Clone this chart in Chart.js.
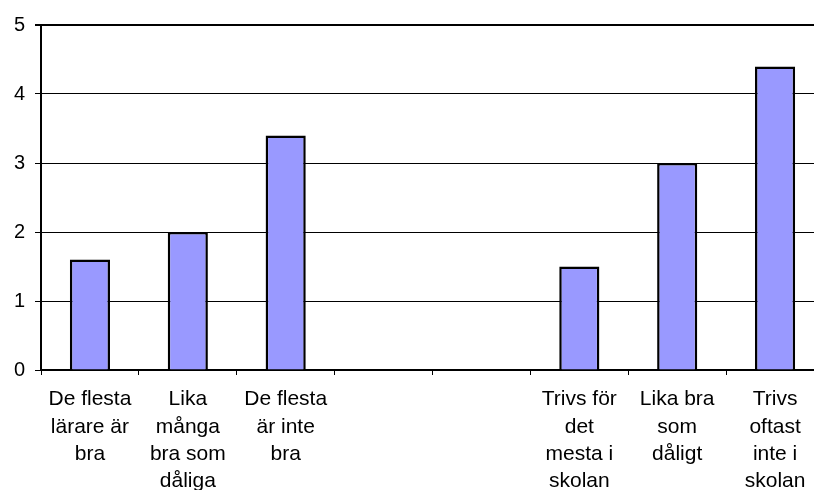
<!DOCTYPE html>
<html>
<head>
<meta charset="utf-8">
<script src="https://cdn.jsdelivr.net/npm/chart.js@4"></script>
<style>
  html, body { margin: 0; padding: 0; background: #fff; overflow: hidden; width: 814px; height: 490px; }
  #wrap { width: 826px; height: 490px; }
</style>
</head>
<body>
<div id="wrap"><canvas id="barChart"></canvas></div>
<script>
// categories (multi-line labels), two empty slots in the middle
var categories = [
  ["De flesta", "lärare är", "bra"],
  ["Lika", "många", "bra som", "dåliga"],
  ["De flesta", "är inte", "bra"],
  "",
  "",
  ["Trivs för", "det", "mesta i", "skolan"],
  ["Lika bra", "som", "dåligt"],
  ["Trivs", "oftast", "inte i", "skolan"]
];
var values = [1.6, 2.0, 3.4, null, null, 1.5, 3.0, 4.4];
var yTicks = [0, 1, 2, 3, 4, 5];

var ctx = document.getElementById("barChart").getContext('2d');

var myBarChart = new Chart(ctx, {
  type: 'bar',
  data: {
    labels: categories,
    datasets: [{
      data: values,
      backgroundColor: '#9999ff',
      borderColor: '#000000',
      borderWidth: 2.5,
      categoryPercentage: 1,
      barPercentage: 0.41
    }]
  },
  options: {
    responsive: true,
    maintainAspectRatio: false,
    animation: false,
    layout: { padding: { top: 25, right: 2, left: 0, bottom: 0 } },
    plugins: {
      legend: { display: false },
      tooltip: { enabled: false }
    },
    scales: {
      x: {
        grid: { drawOnChartArea: false, color: '#000', tickLength: 5, offset: true },
        border: { color: '#000', width: 2 },
        ticks: {
          autoSkip: false, maxRotation: 0, minRotation: 0,
          color: '#000', padding: 11,
          font: { family: 'Liberation Sans, Arial, sans-serif', size: 21, lineHeight: 1.3 }
        },
        afterFit: function (scale) { scale.height = 120; }
      },
      y: {
        min: 0, max: 5,
        afterBuildTicks: function (scale) {
          scale.ticks = yTicks.map(function (v) { return { value: v }; });
        },
        grid: {
          color: '#000',
          lineWidth: function (c) { return c.tick && c.tick.value === 5 ? 2 : 1; },
          tickLength: 6
        },
        border: { color: '#000', width: 2 },
        ticks: {
          color: '#000', padding: 10,
          font: { family: 'Liberation Sans, Arial, sans-serif', size: 20 }
        },
        afterFit: function (scale) { scale.width = 41; }
      }
    }
  }
});
</script>
</body>
</html>
